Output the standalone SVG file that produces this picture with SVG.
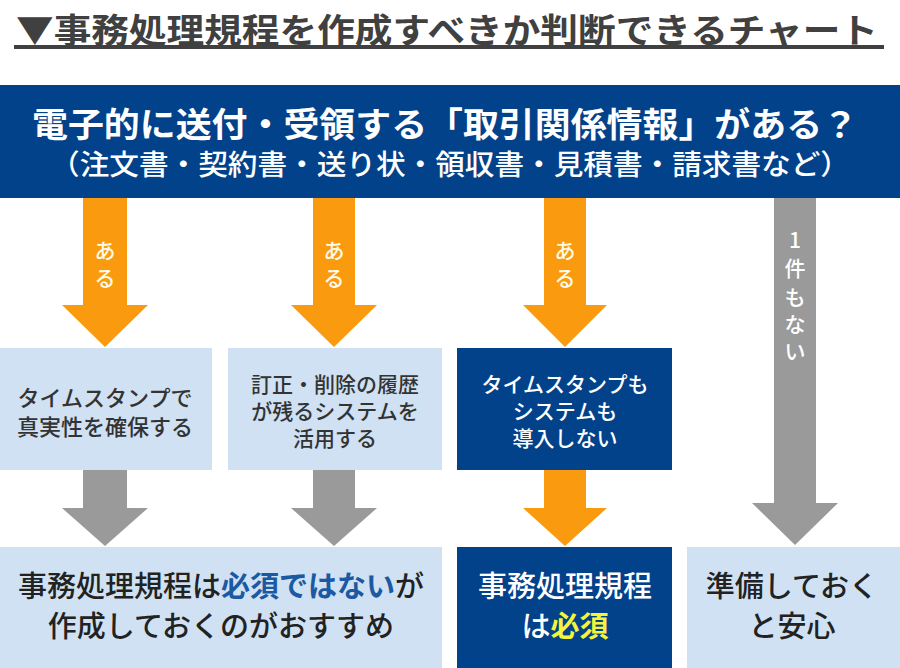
<svg xmlns="http://www.w3.org/2000/svg" width="900" height="668" viewBox="0 0 900 668">
<style>
text{font-family:"Noto Sans CJK JP","Noto Sans",sans-serif;text-anchor:middle;dominant-baseline:central}
.dark{fill:#02428a}
.light{fill:#cfe1f3}
.org{fill:#fa9b0f}
.gry{fill:#9a9a9a}
.t22{font-size:22px;font-weight:500;fill:#333}
.t21{font-size:21px;font-weight:500;fill:#333}
.w21{font-size:21px;font-weight:500;fill:#fff}
.lbl{font-size:21px;font-weight:500;fill:#fffaea}
.wl{font-size:21px;font-weight:500;fill:#fff}
.t30{font-size:29px;font-weight:500;fill:#222}
.w30{font-size:29px;font-weight:500;fill:#fff}
</style>
<rect width="900" height="668" fill="#fff"/>
<g id="title">
<text x="447" y="28" font-size="34" font-weight="700" fill="#404040" textLength="862" lengthAdjust="spacingAndGlyphs">▼事務処理規程を作成すべきか判断できるチャート</text>
<rect x="14" y="45" width="870" height="4" fill="#404040"/>
</g>
<g id="connectors">
<polygon class="org" points="83,198 127,198 127,305 148,305 105,347 62,305 83,305"/>
<text class="lbl" x="105" y="249">あ<tspan x="105" dy="28">る</tspan></text>
<polygon class="org" points="313,198 355,198 355,305 377,305 334,347 291,305 313,305"/>
<text class="lbl" x="334" y="249">あ<tspan x="334" dy="28">る</tspan></text>
<polygon class="org" points="544,198 586,198 586,305 607,305 565,347 523,305 544,305"/>
<text class="lbl" x="565" y="249">あ<tspan x="565" dy="28">る</tspan></text>
<polygon class="gry" points="774,198 816,198 816,503 838,503 795,545 752,503 774,503"/>
<text class="wl" x="795" y="239">1<tspan x="795" dy="28">件</tspan><tspan x="795" dy="29">も</tspan><tspan x="795" dy="27">な</tspan><tspan x="795" dy="27">い</tspan></text>
<polygon class="gry" points="83,470 127,470 127,508 148,508 105,546 62,508 83,508"/>
<polygon class="gry" points="313,470 355,470 355,508 377,508 334,546 291,508 313,508"/>
<polygon class="org" points="544,470 586,470 586,508 607,508 565,546 523,508 544,508"/>
</g>
<g id="question">
<rect class="dark" x="0" y="85" width="900" height="113"/>
<text x="445" y="122" font-size="34" font-weight="700" fill="#fff" textLength="826" lengthAdjust="spacingAndGlyphs">電子的に送付・受領する「取引関係情報」がある？</text>
<text x="450" y="163" font-size="28" font-weight="500" fill="#fff" textLength="800" lengthAdjust="spacingAndGlyphs">（注文書・契約書・送り状・領収書・見積書・請求書など）</text>
</g>
<g id="timestamp">
<rect class="light" x="0" y="348" width="212" height="122"/>
<text class="t22" x="105" y="396">タイムスタンプで<tspan x="105" dy="29">真実性を確保する</tspan></text>
</g>
<g id="system">
<rect class="light" x="228" y="348" width="214" height="122"/>
<text class="t21" x="335" y="383">訂正・削除の履歴<tspan x="335" dy="27">が残るシステムを</tspan><tspan x="335" dy="27">活用する</tspan></text>
</g>
<g id="none">
<rect class="dark" x="457" y="348" width="215" height="122"/>
<text class="w21" x="565" y="383">タイムスタンプも<tspan x="565" dy="27">システムも</tspan><tspan x="565" dy="27">導入しない</tspan></text>
</g>
<g id="recommended">
<rect class="light" x="0" y="547" width="442" height="121"/>
<text class="t30" x="221" y="584" font-size="30">事務処理規程は<tspan fill="#1b5aa3" font-weight="700">必須ではない</tspan>が<tspan x="221" dy="40">作成しておくのがおすすめ</tspan></text>
</g>
<g id="required">
<rect class="dark" x="457" y="547" width="215" height="121"/>
<text class="w30" x="565" y="584">事務処理規程<tspan x="565" dy="40">は</tspan><tspan fill="#f4f53a" font-weight="700">必須</tspan></text>
</g>
<g id="safe">
<rect class="light" x="687" y="547" width="213" height="121"/>
<text class="t30" x="792" y="584">準備しておく<tspan x="792" dy="40">と安心</tspan></text>
</g>
</svg>
